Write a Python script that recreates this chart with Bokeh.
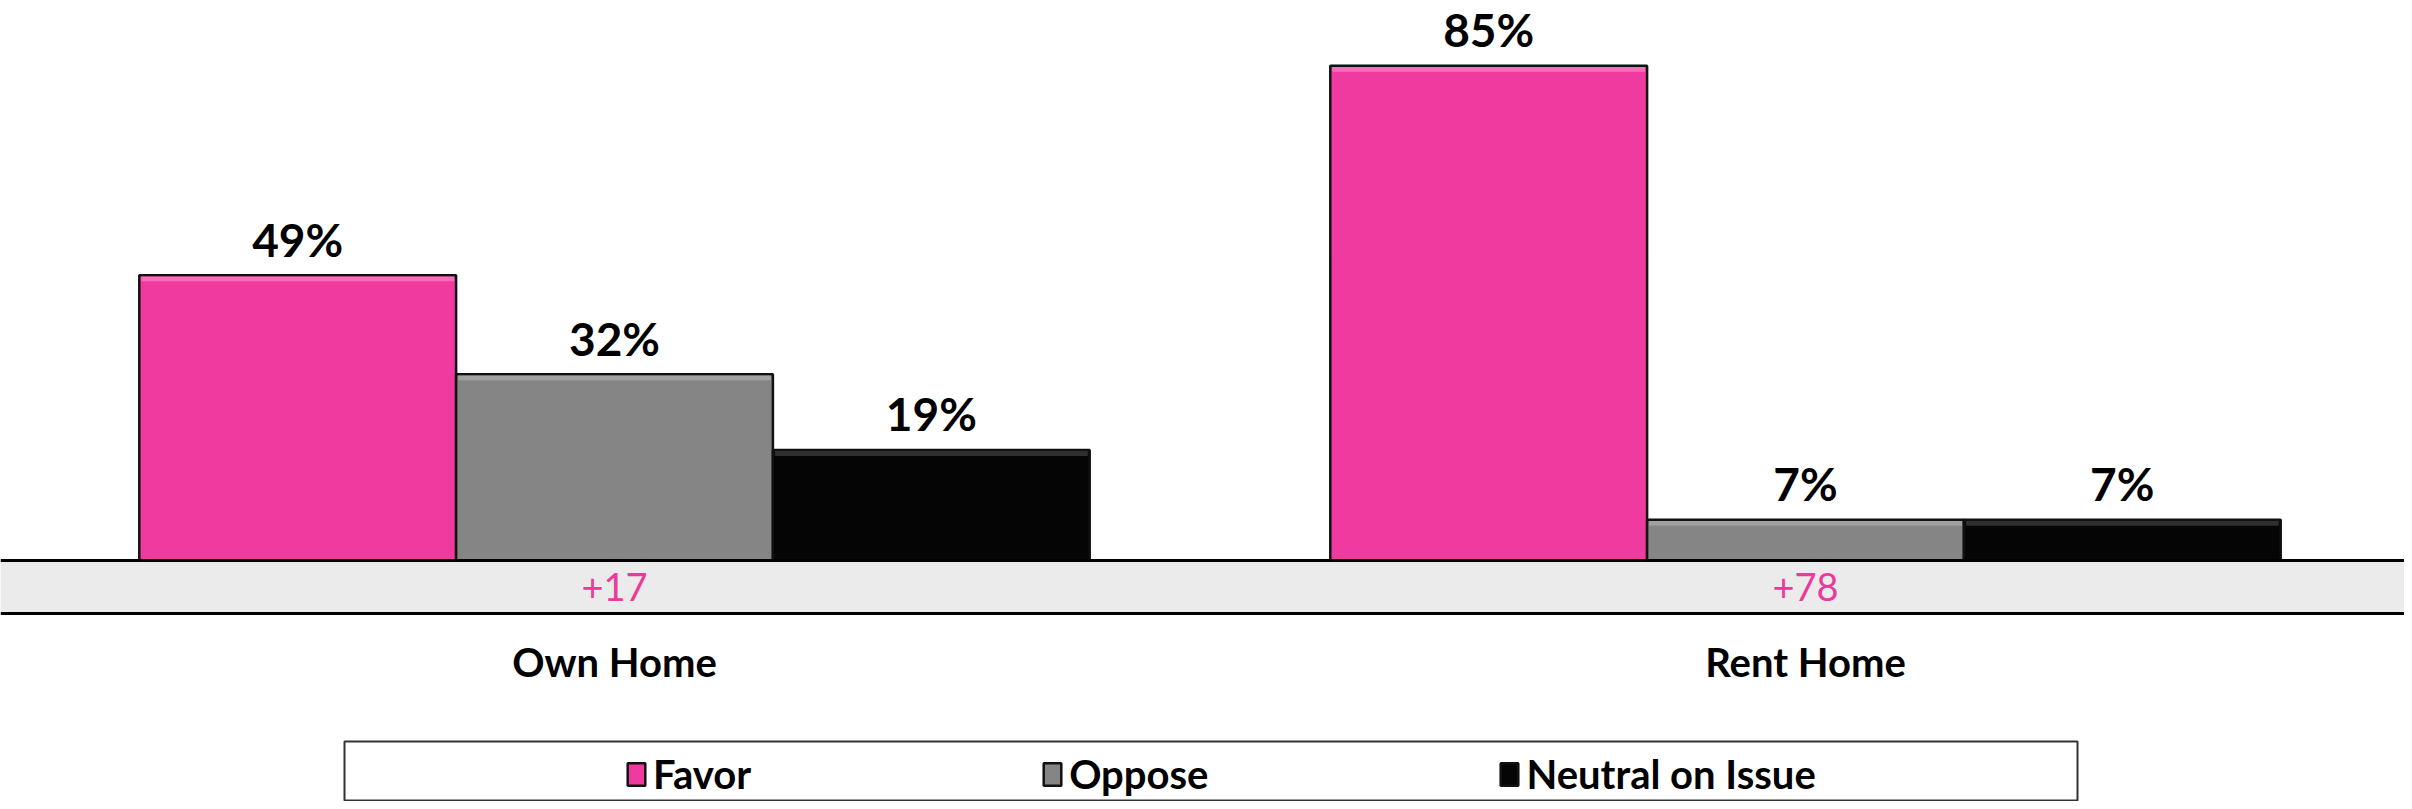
from bokeh.plotting import figure
from bokeh.models import Range1d, Span, Legend, LegendItem
from bokeh.core.properties import value
from bokeh.embed import file_html
from bokeh.resources import INLINE

# ---- data ----
groups = ["Own Home", "Rent Home"]
series = ["Favor", "Oppose", "Neutral on Issue"]
favor = [49, 85]
oppose = [32, 7]
neutral = [19, 7]
colors = ["#F03A9F", "#858585", "#050505"]
bevel_colors = ["#F77CC0", "#A8A8A8", "#3A3A3A"]

# ---- layout constants (pixels) ----
W, H = 2404, 801
PX_PER_UNIT_X = 1191.0
PX_PER_PCT = 5.82
BASE_PX = 560.0
GROUP0_PX = 614.0
BAR_W = 0.266

x_start = -GROUP0_PX / PX_PER_UNIT_X
x_end = x_start + W / PX_PER_UNIT_X
y_end = BASE_PX / PX_PER_PCT
y_start = -(H - BASE_PX) / PX_PER_PCT


def px_x(px):
    return x_start + px / PX_PER_UNIT_X


def px_y(py):
    return (BASE_PX - py) / PX_PER_PCT


p = figure(width=W, height=H, x_range=Range1d(x_start, x_end),
           y_range=Range1d(y_start, y_end), output_backend="svg",
           toolbar_location=None, min_border=0, outline_line_color=None,
           x_axis_location=None, y_axis_location=None)
p.grid.visible = False
p.background_fill_color = "white"

# band under the baseline
band_bottom = px_y(BASE_PX + 53)
p.quad(left=[x_start], right=[x_end], top=[0], bottom=[band_bottom],
       fill_color="#EBEBEB", line_color=None)

renderers = []
gidx = list(range(len(groups)))
bevel = 6 / PX_PER_PCT
gap = 36 / PX_PER_PCT
for i, (vals, col, bcol) in enumerate(zip([favor, oppose, neutral], colors, bevel_colors)):
    xs = [g + (i - 1) * BAR_W for g in gidx]
    r = p.vbar(x=xs, top=vals, bottom=0, width=BAR_W, fill_color=col,
               line_color="#111111", line_width=2.5)
    renderers.append(r)
    # light bevel along the top edge
    p.vbar(x=xs, top=[v - 1.2 / PX_PER_PCT for v in vals],
           bottom=[v - bevel for v in vals], width=BAR_W - 4 / PX_PER_UNIT_X,
           fill_color=bcol, line_color=None, fill_alpha=0.8)
    p.text(x=xs, y=[v + gap for v in vals], text=[f"{v}%" for v in vals],
           text_align="center", text_baseline="middle",
           text_font=value("Lato"), text_font_style="bold",
           text_font_size="46px", text_color="black")

p.add_layout(Span(location=0, dimension="width", line_color="black", line_width=3))
p.add_layout(Span(location=band_bottom, dimension="width", line_color="black", line_width=3))

# lead (Favor - Oppose)
lead = [f"+{f - o}" for f, o in zip(favor, oppose)]
p.text(x=gidx, y=[band_bottom / 2] * len(gidx), text=lead, text_align="center",
       text_baseline="middle", text_font=value("Lato"),
       text_font_size="38px", text_color="#EC3A9C")

# category labels
p.text(x=gidx, y=[px_y(661.5)] * len(gidx), text=groups, text_align="center",
       text_baseline="middle", text_font=value("Lato"), text_font_style="bold",
       text_font_size="40px", text_color="black")

# legend box
p.quad(left=[px_x(344)], right=[px_x(2077)], top=[px_y(741)], bottom=[px_y(800)],
       fill_color="white", line_color="#333333", line_width=2)

legend = Legend(items=[LegendItem(label=s, renderers=[r]) for s, r in zip(series, renderers)],
                orientation="horizontal", location=(619, -3), spacing=290,
                padding=6, margin=0, label_standoff=6, glyph_width=22, glyph_height=28,
                label_text_font="Lato", label_text_font_style="bold",
                label_text_font_size="40px", label_text_color="black",
                border_line_alpha=0, background_fill_alpha=0)
p.add_layout(legend, "center")

open("out.html", "w").write(file_html(p, INLINE))
